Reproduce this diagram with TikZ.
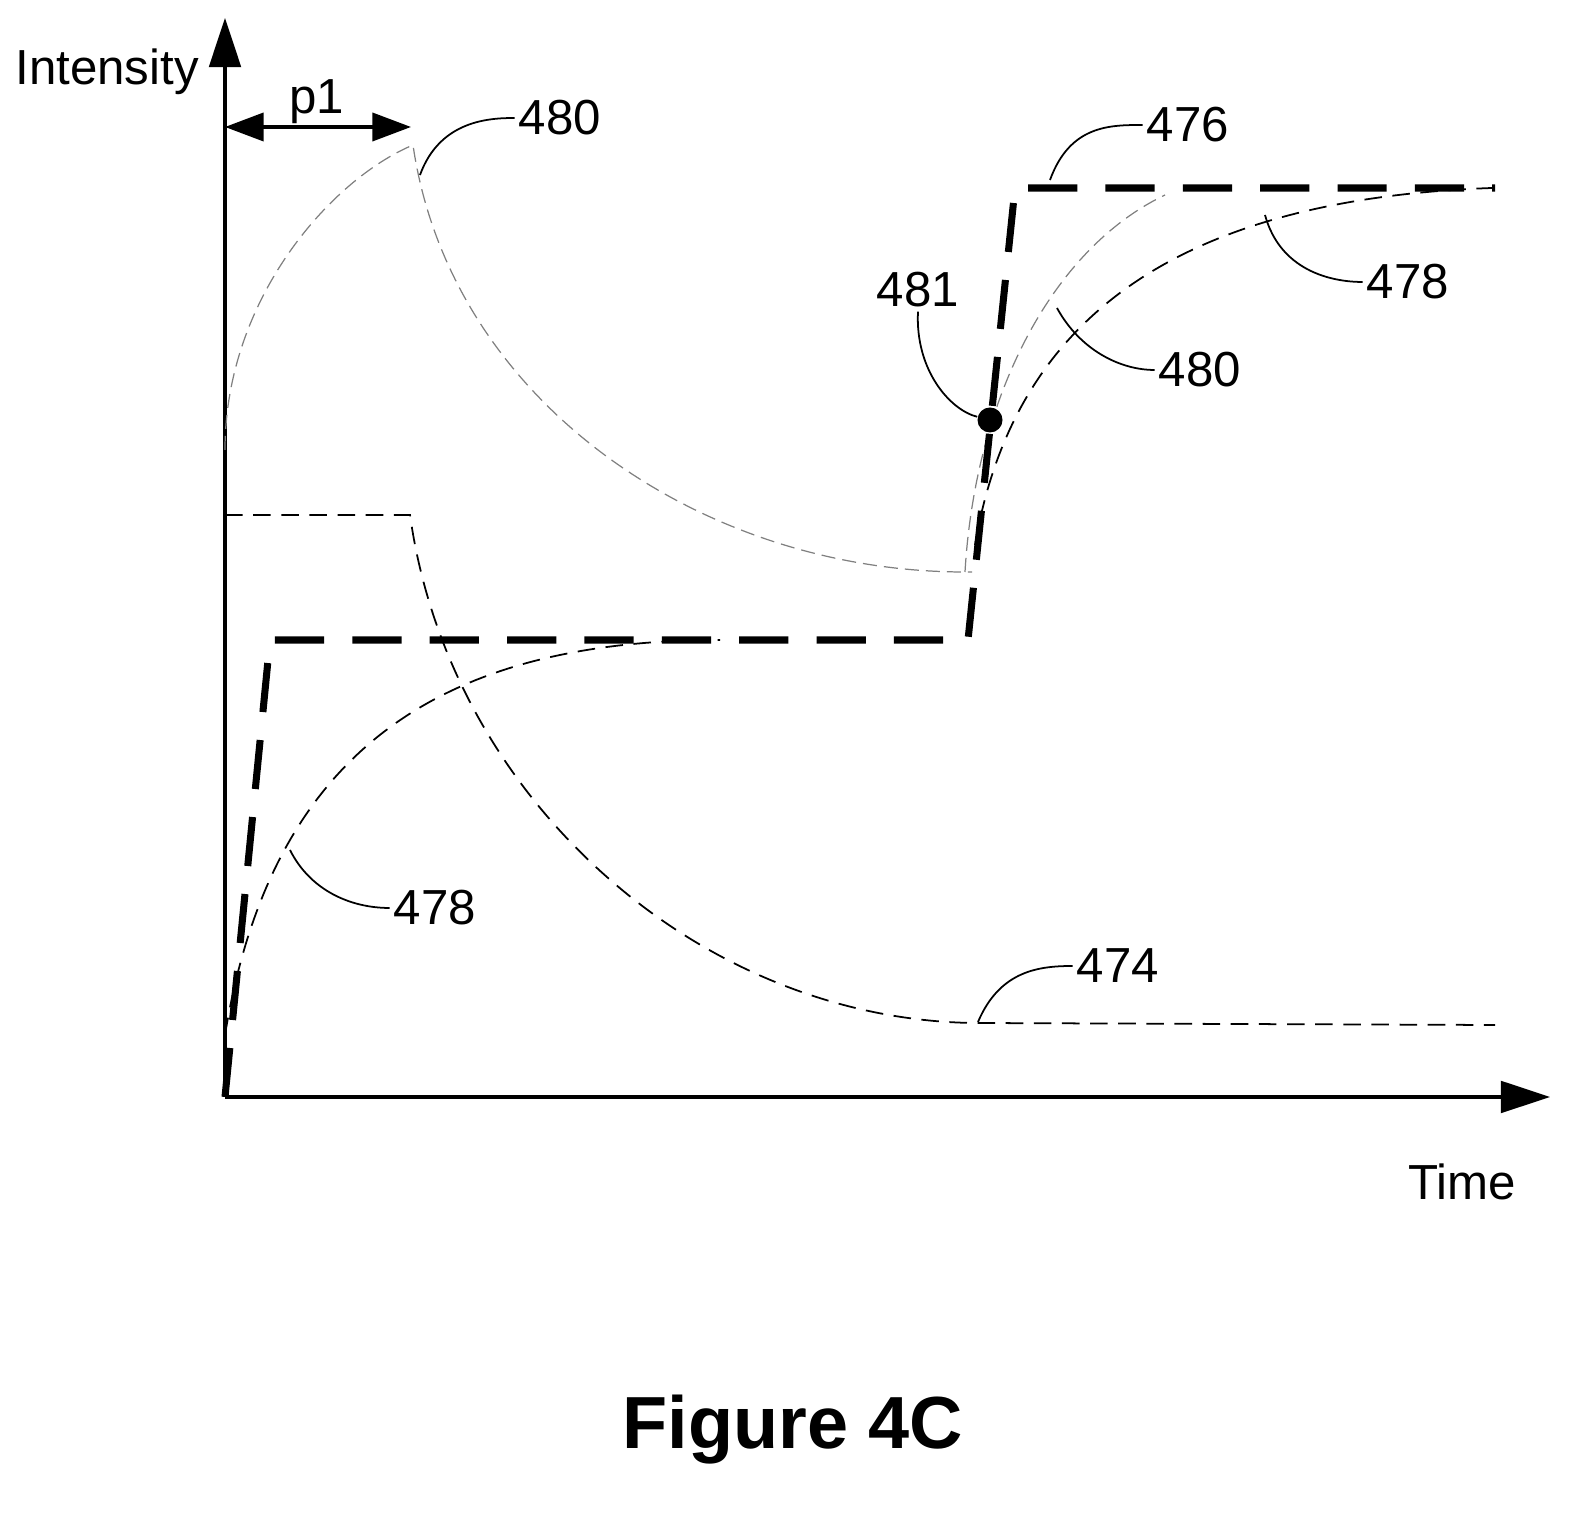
\documentclass[tikz,border=0pt]{standalone}
\usepackage{fontspec}
\setmainfont{Liberation Sans}
\usetikzlibrary{arrows.meta}
\begin{document}
\begin{tikzpicture}[x=0.01cm,y=-0.01cm,
  thin480/.style={draw=gray,line width=0.35pt,dash pattern=on 4pt off 2pt},
  thindash/.style={line width=0.5pt,dash pattern=on 5pt off 3pt},
  thickdash/.style={line width=2pt,dash pattern=on 14pt off 8pt},
  lbl/.style={font=\fontsize{14}{14}\selectfont,inner sep=1pt},
  lead/.style={line width=0.5pt}]
\useasboundingbox (0,0) rectangle (1593,1513);
% axes
\coordinate (O) at (225,1097);
\coordinate (Ytop) at (225,18);
\coordinate (Xend) at (1550,1097);
\draw[line width=1pt,-{Triangle[length=14pt,width=9pt]}] (O) -- (Ytop);
\draw[line width=1pt,-{Triangle[length=14pt,width=9pt]}] (O) -- (Xend);
\node[lbl] (int) at (107,72) {Intensity};
\node[lbl] (time) at (1462,1182) {Time};
\node[font=\fontsize{21}{21}\selectfont\bfseries] (fig) at (793,1430) {Figure 4C};
% p1
\coordinate (p1a) at (225,127);
\coordinate (p1b) at (411,127);
\draw[line width=1pt,{Triangle[length=11pt,width=8pt]}-{Triangle[length=11pt,width=8pt]}] (p1a) -- (p1b);
\node[lbl] (p1) at (317,102) {p1};
% 480
\draw[thin480] (225,450) .. controls (225,300) and (330,180) .. (413,145)
  .. controls (450,400) and (700,572) .. (965,572) -- (972,572);
\draw[thin480] (965,572) .. controls (975,400) and (1050,250) .. (1165,195);
% 474
\draw[thindash] (225,515) -- (410,515) .. controls (450,800) and (700,1020) .. (975,1023) -- (1495,1025);
% 478
\draw[thindash] (225,1035) .. controls (270,760) and (430,640) .. (720,640);
\draw[thindash] (975,545) .. controls (1010,340) and (1150,200) .. (1492,188);
% 476
\draw[thickdash] (225,1097) -- (270,640) -- (968,640) -- (1015,188) -- (1495,188);
% 481 dot
\node[circle,fill=black,inner sep=0pt,minimum size=0.25cm] (dot) at (990,420) {};
% labels
\node[lbl] (l480a) at (560,118) {480};
\node[lbl] (l476) at (1188,125) {476};
\node[lbl] (l478a) at (1408,282) {478};
\node[lbl] (l480b) at (1200,370) {480};
\node[lbl] (l481) at (918,290) {481};
\node[lbl] (l478b) at (435,908) {478};
\node[lbl] (l474) at (1118,966) {474};
\coordinate (c480a) at (420,175);
\coordinate (c476) at (1050,180);
\coordinate (c478a) at (1265,215);
\coordinate (c480b) at (1057,308);
\coordinate (c478b) at (290,850);
\coordinate (c474) at (978,1022);
\draw[lead] (c480a) .. controls (440,120) and (490,118) .. (l480a.west);
\draw[lead] (c476) .. controls (1070,125) and (1110,125) .. (l476.west);
\draw[lead] (c478a) .. controls (1280,270) and (1330,282) .. (l478a.west);
\draw[lead] (c480b) .. controls (1080,350) and (1120,370) .. (l480b.west);
\draw[lead] (l481.south) .. controls (915,370) and (950,410) .. (dot);
\draw[lead] (c478b) .. controls (310,890) and (350,908) .. (l478b.west);
\draw[lead] (c474) .. controls (1000,970) and (1040,966) .. (l474.west);
\end{tikzpicture}
\end{document}
